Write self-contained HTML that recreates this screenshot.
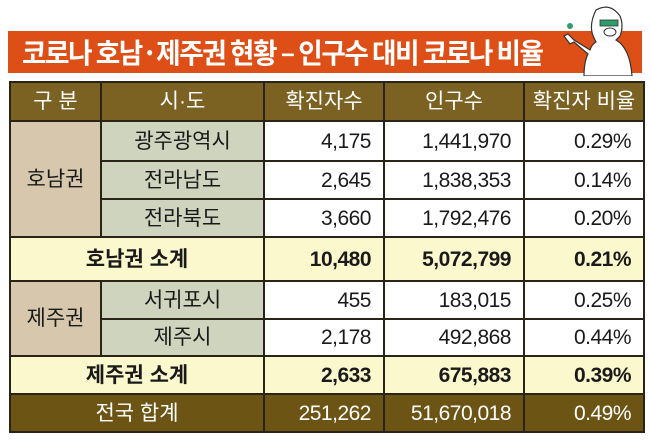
<!DOCTYPE html>
<html><head><meta charset="utf-8"><style>
body{margin:0;background:#fff;width:650px;height:441px;overflow:hidden;position:relative;font-family:"Liberation Sans","Noto Sans CJK KR",sans-serif;}
.banner{position:absolute;left:8px;top:31px;width:634px;height:42px;background:#dd4f16;}
.banner span{position:absolute;left:14px;top:1px;color:#fff;font-size:28px;font-weight:bold;font-family:"Noto Sans CJK KR",sans-serif;letter-spacing:-1.5px;transform:scaleX(0.95);transform-origin:left;white-space:nowrap;}
table{position:absolute;left:9px;top:81px;border-collapse:collapse;table-layout:fixed;}
td{border:2px solid #2a2418;padding:0;font-size:21px;font-family:"Liberation Sans","Noto Sans CJK KR",sans-serif;color:#1a1a1a;text-align:center;line-height:21px;}
.h td{background:#7b6122;color:#fff;}
.g{background:#d7c8ad;}
.s{background:#cfd4bf;}
.n{text-align:right;padding-right:12px;letter-spacing:-0.5px;}
.sub td{background:#fcf8cd;font-weight:bold;}
.tot td{background:#6c5414;color:#fff;}
</style></head><body>
<div class="banner"><span>코로나 호남·제주권 현황 – 인구수 대비 코로나 비율</span></div>
<svg style="position:absolute;left:556px;top:2px" width="82" height="74" viewBox="0 0 82 74">
<path d="M40 8 q14-8 24 6 q4 10 0 20 l-4 4 q14 8 16 36 h-48 q0-14 4-22 l-14-12 l-4 2 l-6-8 l4-2 l6 6 l16 10 q2-6 6-8 l-2-4 q-6-12 2-28z" fill="#fff" stroke="#333" stroke-width="1.2"/>
<rect x="44" y="18" width="18" height="6" fill="#2e9d6a" stroke="#333" stroke-width="0.8"/>
<ellipse cx="54" cy="30" rx="6" ry="4" fill="#fff" stroke="#333"/>
<circle cx="14" cy="24" r="3" fill="#2e9d6a"/>
</svg>
<table>
<colgroup><col style="width:91px"><col style="width:163px"><col style="width:120px"><col style="width:140px"><col style="width:120px"></colgroup>
<tr class="h" style="height:39px"><td>구 분</td><td>시·도</td><td>확진자수</td><td>인구수</td><td>확진자 비율</td></tr>
<tr style="height:40px"><td class="g" rowspan="3">호남권</td><td class="s">광주광역시</td><td class="n">4,175</td><td class="n">1,441,970</td><td class="n">0.29%</td></tr>
<tr style="height:38px"><td class="s">전라남도</td><td class="n">2,645</td><td class="n">1,838,353</td><td class="n">0.14%</td></tr>
<tr style="height:38px"><td class="s">전라북도</td><td class="n">3,660</td><td class="n">1,792,476</td><td class="n">0.20%</td></tr>
<tr class="sub" style="height:44px"><td colspan="2">호남권 소계</td><td class="n">10,480</td><td class="n">5,072,799</td><td class="n">0.21%</td></tr>
<tr style="height:38px"><td class="g" rowspan="2">제주권</td><td class="s">서귀포시</td><td class="n">455</td><td class="n">183,015</td><td class="n">0.25%</td></tr>
<tr style="height:37px"><td class="s">제주시</td><td class="n">2,178</td><td class="n">492,868</td><td class="n">0.44%</td></tr>
<tr class="sub" style="height:38px"><td colspan="2">제주권 소계</td><td class="n">2,633</td><td class="n">675,883</td><td class="n">0.39%</td></tr>
<tr class="tot" style="height:38px"><td colspan="2">전국 합계</td><td class="n">251,262</td><td class="n">51,670,018</td><td class="n">0.49%</td></tr>
</table>
</body></html>
